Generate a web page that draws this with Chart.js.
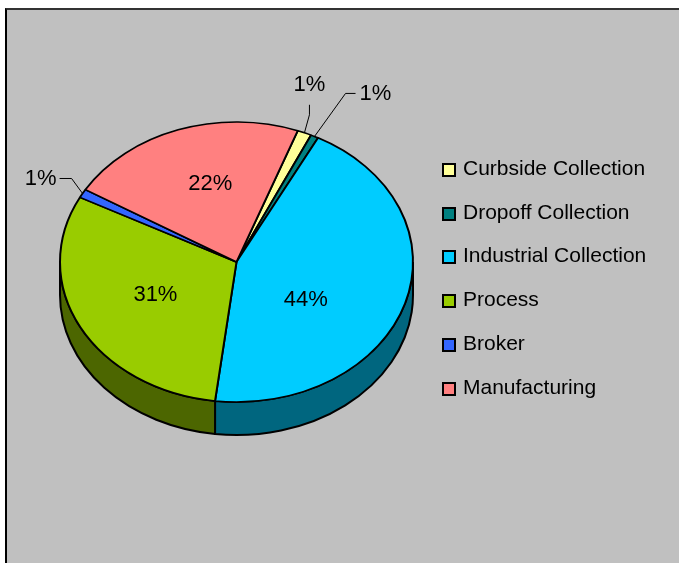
<!DOCTYPE html>
<html>
<head>
<meta charset="utf-8">
<script src="https://cdn.jsdelivr.net/npm/chart.js@4/dist/chart.umd.min.js"></script>
<style>
    html, body { margin: 0; padding: 0; background: #fff; }
    body { width: 679px; height: 563px; position: relative; overflow: hidden; font-family: "Liberation Sans", Arial, sans-serif; }
    #frame { position: absolute; left: 5px; top: 8px; width: 700px; height: 600px; background: #c0c0c0;
             border-left: 2px solid #000; border-top: 2px solid #333; }
    #chartWrap { position: absolute; left: 0; top: 0; width: 679px; height: 563px; }
    #legend { position: absolute; left: 442px; top: 146px; }
    .legend-row { height: 43.8px; display: flex; align-items: center; font-size: 21px; color: #000; }
    .legend-box { width: 10px; height: 10px; border: 2px solid #000; margin-right: 7px; margin-top: 4px; }
</style>
</head>
<body>
<div id="frame"></div>
<div id="chartWrap"><canvas id="pieChart" width="679" height="563"></canvas></div>
<div id="legend"></div>

<script>
// 数据
const categories = ['Curbside Collection', 'Dropoff Collection', 'Industrial Collection', 'Process', 'Broker', 'Manufacturing'];
const shares = [1.3, 0.7, 44.3, 30.7, 1.0, 22.0];
const sliceColors = ['#ffff99', '#008080', '#00ccff', '#99cc00', '#3366ff', '#ff8080'];

const squash = 140 / 176.5;   // 椭圆纵横比
const depth = 33;             // 饼的厚度

// 小扇区标签的引线 (相对扇区边缘点)
const leaders = [
    { path: [[5, -18], [5, -28]], text: [0, -20], align: 'center' },
    { path: [[31, -43], [41, -43]], text: [4, 1], align: 'left' },
    null, null,
    { path: [[-11, -15], [-23, -15]], text: [-3, 0], align: 'right' },
    null
];
// 大扇区标签微调
const labelNudge = [null, null, [-15, 17], [-3, 0], null, [3, -12]];

function darken(hex) {
    const n = parseInt(hex.slice(1), 16);
    const r = (n >> 16) >> 1, g = ((n >> 8) & 255) >> 1, b = (n & 255) >> 1;
    return `rgb(${r},${g},${b})`;
}

const pie3d = {
    id: 'pie3d',
    beforeDatasetsDraw(chart) {
        const ctx = chart.ctx;
        const meta = chart.getDatasetMeta(0);
        const first = meta.data[0];
        const cx = first.x, cy = first.y, rx = first.outerRadius, ry = rx * squash;

        // 侧面
        ctx.save();
        ctx.lineWidth = 2;
        ctx.strokeStyle = '#000';
        meta.data.forEach((arc, i) => {
            const a1 = arc.startAngle, a2 = arc.endAngle;
            for (let k = -1; k <= 1; k++) {
                const lo = Math.max(a1, 2 * Math.PI * k);
                const hi = Math.min(a2, 2 * Math.PI * k + Math.PI);
                if (hi <= lo) continue;
                ctx.beginPath();
                ctx.ellipse(cx, cy, rx, ry, 0, lo, hi);
                ctx.ellipse(cx, cy + depth, rx, ry, 0, hi, lo, true);
                ctx.closePath();
                ctx.fillStyle = darken(sliceColors[i]);
                ctx.fill();
                ctx.stroke();
            }
        });
        ctx.restore();

        // 顶面压扁成椭圆
        ctx.save();
        ctx.translate(cx, cy);
        ctx.scale(1, squash);
        ctx.translate(-cx, -cy);
    },
    afterDatasetsDraw(chart) {
        const ctx = chart.ctx;
        ctx.restore();

        const meta = chart.getDatasetMeta(0);
        const first = meta.data[0];
        const cx = first.x, cy = first.y, rx = first.outerRadius, ry = rx * squash;
        const total = shares.reduce((a, b) => a + b, 0);

        ctx.save();
        ctx.font = '22px "Liberation Sans", Arial, sans-serif';
        ctx.fillStyle = '#000';
        ctx.strokeStyle = '#000';
        ctx.lineWidth = 1;
        ctx.textBaseline = 'middle';
        meta.data.forEach((arc, i) => {
            const text = Math.round(shares[i] / total * 100) + '%';
            const mid = (arc.startAngle + arc.endAngle) / 2;
            const lead = leaders[i];
            if (!lead) {
                const nudge = labelNudge[i] || [0, 0];
                ctx.textAlign = 'center';
                ctx.fillText(text, cx + rx * 0.5 * Math.cos(mid) + nudge[0], cy + ry * 0.5 * Math.sin(mid) + nudge[1]);
                return;
            }
            const ex = cx + rx * Math.cos(mid), ey = cy + ry * Math.sin(mid);
            ctx.beginPath();
            ctx.moveTo(ex, ey);
            lead.path.forEach(p => ctx.lineTo(ex + p[0], ey + p[1]));
            ctx.stroke();
            const last = lead.path[lead.path.length - 1];
            ctx.textAlign = lead.align;
            ctx.fillText(text, ex + last[0] + lead.text[0], ey + last[1] + lead.text[1]);
        });
        ctx.restore();
    }
};

const ctx = document.getElementById('pieChart').getContext('2d');
new Chart(ctx, {
    type: 'pie',
    data: {
        labels: categories,
        datasets: [{
            data: shares,
            backgroundColor: sliceColors,
            borderColor: '#000',
            borderWidth: 2,
            hoverOffset: 0
        }]
    },
    options: {
        responsive: false,
        animation: false,
        rotation: 20.3,
        radius: 176.5,
        layout: { padding: { left: 40, right: 246, top: 62, bottom: 101 } },
        plugins: {
            legend: { display: false },
            tooltip: { enabled: false }
        }
    },
    plugins: [pie3d]
});

// 图例
document.getElementById('legend').innerHTML = categories.map((name, i) => `
    <div class="legend-row">
        <div class="legend-box" style="background:${sliceColors[i]}"></div>
        <span>${name}</span>
    </div>
`).join('');
</script>
</body>
</html>
